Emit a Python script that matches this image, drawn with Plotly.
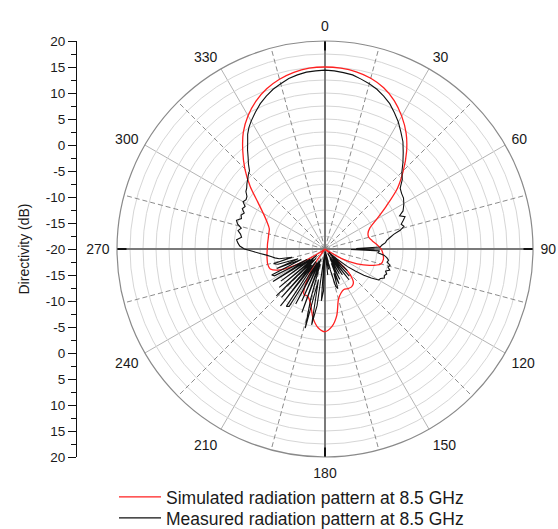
import plotly.graph_objects as go

# ---------------- data ----------------
sim_theta = list(range(0, 360, 5))
sim_db = [15.0, 14.9, 14.6, 14.0, 13.0, 11.5, 9.5, 7.2, 4.4, 1.3,
          -1.8, -5.6, -8.5, -10.5, -11.2, -11.3, -10.8, -10.0, -9.2, -8.8,
          -8.6, -8.9, -10.8, -13.2, -16.3, -20.0, -20.0, -13.5, -11.5, -11.1,
          -11.2, -11.4, -11.0, -10.0, -7.0, -5.0, -4.1, -4.8, -6.6, -9.2,
          -10.3, -10.4, -13.0, -17.0, -20.0, -20.0, -20.0, -19.0, -15.0, -10.5,
          -8.8, -8.6, -8.7, -8.8, -8.9, -8.9, -8.9, -8.8, -8.6, -7.7,
          -6.3, -4.2, -1.2, 1.8, 4.6, 7.4, 9.6, 11.4, 12.8, 13.8,
          14.5, 14.9]

meas_theta = [0, 3, 6, 9, 12, 15, 18, 21, 24, 27, 30, 33, 36, 39, 42, 45, 48, 51, 54, 57,
              60, 62, 64, 66, 68, 70, 72, 74, 76, 78, 80, 82, 84, 86, 88, 89, 90, 91, 92, 94,
              96, 98, 100, 102, 104, 106, 108, 110, 112, 114, 116, 118, 120, 122, 124, 126, 128, 130, 132, 134,
              136, 138, 140, 142, 144, 146, 148, 150, 152, 154, 156, 158, 160, 162, 164, 166, 168, 170, 172, 174,
              176, 178, 180, 182, 184, 186, 188, 190, 192, 194, 196, 198, 200, 202, 204, 206, 208, 210, 212, 214,
              216, 218, 220, 222, 224, 226, 228, 230, 232, 234, 236, 238, 240, 242, 244, 246, 248, 250, 252, 254,
              256, 258, 260, 262, 264, 266, 268, 270, 272, 274, 276, 278, 280, 282, 284, 286, 288, 290, 292, 294,
              296, 298, 300, 302, 304, 306, 308, 310, 312, 314, 316, 318, 320, 322, 324, 326, 328, 330, 333, 336,
              339, 342, 345, 348, 351, 354, 357]
meas_db = [14.4, 14.3, 14.1, 13.9, 13.4, 12.9, 12.3, 11.5, 10.6, 9.4, 8.2, 6.8, 5.5, 3.9, 2.4, 0.9, 0.0, -1.4, -1.8, -2.0,
           -2.5, -2.9, -3.3, -4.3, -3.4, -4.0, -4.6, -4.2, -5.1, -6.5, -7.3, -8.0, -8.3, -9.0, -9.4, -14.0, -10.5, -15.0, -9.5, -9.8,
           -8.6, -8.0, -7.6, -7.8, -7.1, -7.4, -6.9, -7.6, -7.2, -7.5, -7.3, -7.9, -8.1, -9.5, -11.0, -12.8, -14.5, -17.0, -19.0, -14.0,
           -18.5, -13.0, -18.0, -12.5, -17.5, -14.0, -19.0, -14.5, -18.0, -13.5, -17.0, -12.8, -15.0, -12.0, -12.5, -16.0, -19.0, -16.0, -19.5, -15.0,
           -19.5, -18.0, -19.5, -12.0, -10.0, -19.0, -9.0, -5.2, -14.0, -4.3, -10.0, -17.0, -7.0, -18.0, -9.0, -17.5, -8.0, -17.0, -7.0, -6.7,
           -17.0, -6.1, -16.0, -7.5, -17.5, -7.0, -17.0, -8.5, -18.0, -9.5, -16.5, -8.2, -16.0, -9.0, -8.6, -15.0, -10.0, -14.5, -10.5, -9.7,
           -13.5, -11.0, -10.2, -9.5, -8.7, -7.5, -6.2, -4.5, -3.6, -3.2, -2.9, -3.8, -3.5, -2.9, -3.4, -2.5, -2.1, -2.9, -2.6, -3.0,
           -2.3, -2.6, -1.8, -2.1, -1.9, -1.2, -0.9, -0.4, 0.0, 0.5, 0.9, 2.0, 3.0, 4.2, 5.3, 6.6, 7.6, 8.4, 9.5, 10.6,
           11.5, 12.3, 12.9, 13.5, 13.9, 14.2, 14.3]

angle_ticks = list(range(0, 360, 30))
angle_labels = [str(a) for a in angle_ticks]
dashed_spokes = list(range(15, 360, 30))
main_spokes = [0, 90, 180, 270]
r_min, r_max = -20, 20
left_ticks = list(range(-40, 41, 5))
left_labels = [str(abs(v) - 20) for v in left_ticks]

# ---------------- figure ----------------
FONT = "Liberation Sans, Arial, sans-serif"
W, H = 558, 529
ML, MR, MT, MB = 60, 25, 41, 0
plot_w = W - ML - MR
plot_h = H - MT - MB
px0 = (117 - ML) / plot_w
ax_x = (77 - ML) / plot_w
py0 = (H - MB - 457) / plot_h

fig = go.Figure()

# invisible anchors for the grid-only polar layers and the cartesian axis
fig.add_trace(go.Scatterpolar(r=[r_min], theta=[0], mode="markers", marker=dict(opacity=0),
                              subplot="polar", showlegend=False, hoverinfo="skip"))
fig.add_trace(go.Scatterpolar(r=[r_min], theta=[0], mode="markers", marker=dict(opacity=0),
                              subplot="polar2", showlegend=False, hoverinfo="skip"))
fig.add_trace(go.Scatter(x=[0.5], y=[0], mode="markers", marker=dict(opacity=0),
                         showlegend=False, hoverinfo="skip"))

fig.add_trace(go.Scatterpolar(
    r=sim_db + sim_db[:1], theta=sim_theta + sim_theta[:1], mode="lines",
    line=dict(color="#ff2020", width=1.3, shape="spline", smoothing=0.8),
    name="Simulated radiation pattern at 8.5 GHz", subplot="polar3", legend="legend"))
fig.add_trace(go.Scatterpolar(
    r=meas_db + meas_db[:1], theta=meas_theta + meas_theta[:1], mode="lines",
    line=dict(color="#111111", width=1.1),
    name="Measured radiation pattern at 8.5 GHz", subplot="polar3", legend="legend2"))

dom = dict(x=[px0, 1], y=[py0, 1])
hidden_radial = dict(range=[r_min, r_max], showgrid=False, showticklabels=False,
                     showline=False, ticks="")
leg_common = dict(x=(114 - ML) / plot_w, xanchor="left", yanchor="middle",
                  font=dict(family=FONT, size=17.5, color="#1a1a1a"),
                  bgcolor="rgba(0,0,0,0)", itemwidth=42)

fig.update_layout(
    width=W, height=H, margin=dict(l=ML, r=MR, t=MT, b=MB, autoexpand=False),
    paper_bgcolor="white", plot_bgcolor="rgba(0,0,0,0)",
    font=dict(family=FONT, size=12, color="#1a1a1a"),
    polar=dict(
        domain=dom, bgcolor="white",
        radialaxis=dict(range=[r_min, r_max], tick0=r_min, dtick=2.5, showticklabels=False,
                        ticks="", showline=False, gridcolor="#d6d6d6", gridwidth=1),
        angularaxis=dict(rotation=90, direction="clockwise", tickmode="array",
                         tickvals=angle_ticks, ticktext=angle_labels,
                         ticks="outside", ticklen=4, tickcolor="rgba(0,0,0,0)",
                         showgrid=True, gridcolor="#b4b4b4", gridwidth=1,
                         showline=True, linecolor="#8a8a8a", linewidth=1.2,
                         tickfont=dict(family=FONT, size=14, color="#1a1a1a")),
    ),
    polar2=dict(
        domain=dom, bgcolor="rgba(0,0,0,0)", radialaxis=hidden_radial,
        angularaxis=dict(rotation=90, direction="clockwise", tickmode="array",
                         tickvals=dashed_spokes, showticklabels=False, ticks="",
                         showgrid=True, gridcolor="#8c8c8c", gridwidth=1, griddash="5px,3px",
                         showline=False),
    ),
    polar3=dict(
        domain=dom, bgcolor="rgba(0,0,0,0)", radialaxis=hidden_radial,
        angularaxis=dict(rotation=90, direction="clockwise", tickmode="array",
                         tickvals=main_spokes, showticklabels=False, ticks="inside",
                         ticklen=9, tickwidth=2, tickcolor="#111111",
                         showgrid=True, gridcolor="#7a7a7a", gridwidth=1.5,
                         showline=False),
    ),
    xaxis=dict(domain=[ax_x, ax_x + 0.01], range=[0, 1], visible=False, fixedrange=True),
    yaxis=dict(domain=[py0, 1], range=[-40, 40], anchor="x", side="left", automargin=False,
               tickmode="array", tickvals=left_ticks, ticktext=left_labels,
               ticks="outside", ticklen=8, tickwidth=1, tickcolor="#111111",
               showline=True, linecolor="#111111", linewidth=1.2,
               showgrid=False, zeroline=False,
               minor=dict(tickmode="linear", tick0=-40, dtick=2.5, ticks="outside",
                          ticklen=5, tickwidth=1, tickcolor="#111111", showgrid=False),
               tickfont=dict(family=FONT, size=13.5, color="#1a1a1a"),
               title=dict(text="Directivity (dB)", font=dict(family=FONT, size=14, color="#1a1a1a"),
                          standoff=12)),
    legend=dict(y=(H - MB - 497) / plot_h, **leg_common),
    legend2=dict(y=(H - MB - 518) / plot_h, **leg_common),
    showlegend=True,
)

fig.write_html("out.html")
